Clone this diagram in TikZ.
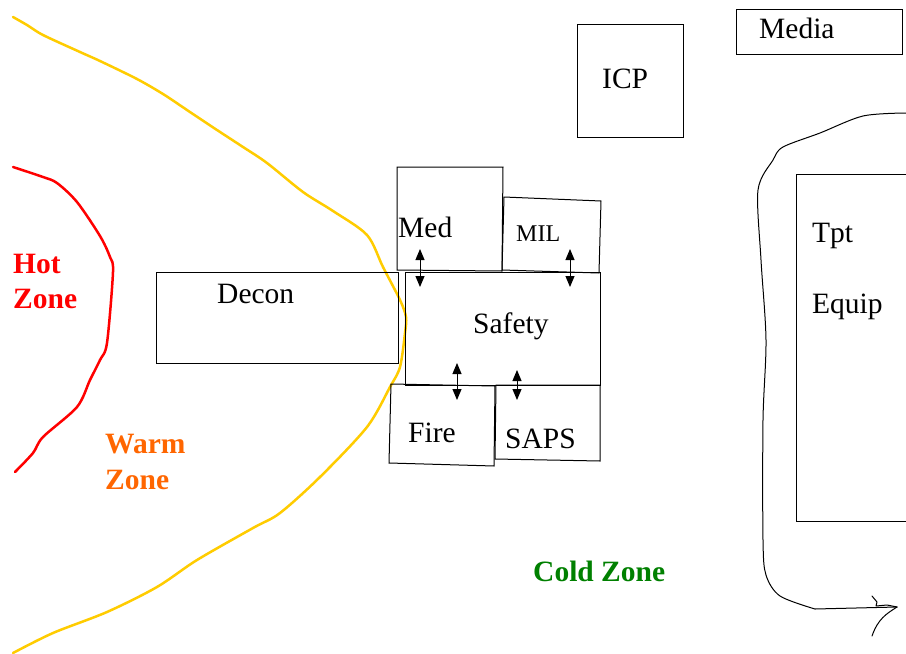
\documentclass[tikz,border=0pt]{standalone}
\usepackage{fontspec}
\setmainfont{Liberation Serif}
\usetikzlibrary{arrows.meta}
\definecolor{hotred}{HTML}{FF0000}
\definecolor{warmyellow}{HTML}{FFCC00}
\definecolor{warmorange}{HTML}{FF6600}
\definecolor{coldgreen}{HTML}{008000}
\tikzset{
  boxline/.style={draw=black, line width=1pt, line join=miter},
  lbl/.style={anchor=base west, inner sep=0pt, font=\fontsize{29.5}{34}\selectfont},
  smalllbl/.style={anchor=base west, inner sep=0pt, font=\fontsize{24}{28}\selectfont},
  zonelbl/.style={anchor=base west, inner sep=0pt, font=\fontsize{29.5}{34}\selectfont\bfseries},
  dblarrow/.style={{Triangle[length=11pt,width=9pt]}-{Triangle[length=11pt,width=9pt]}, line width=1pt},
  zoneline/.style={line width=2.5pt, line cap=round, line join=round},
  loopline/.style={line width=1pt, line cap=round, line join=round}
}
\begin{document}
\begin{tikzpicture}[x=1pt,y=-1pt]
\clip (0,0) rectangle (906,654);
\fill[white] (0,0) rectangle (906,654);

% hot zone boundary
\draw[zoneline, hotred] plot[smooth, tension=0.5] coordinates {
 (13,167) (43,177) (57,183) (77,202) (100,236) (110,257) (113,272)
 (107,343) (100,360) (90,380) (77,407) (43,437) (33,453) (15,472)};

% warm zone boundary
\draw[zoneline, warmyellow] plot[smooth, tension=0.5] coordinates {
 (13,17) (27,25) (43,35) (80,52) (100,61) (137,79) (163,94) (187,110)
 (217,130) (243,147) (267,163) (303,192) (333,211) (367,235) (383,267)
 (400,300) (406,317) (405,333) (400,367) (390,387) (367,427) (320,477)
 (280,513) (253,528) (197,560) (157,587) (107,612) (53,633) (13,653)};

% boxes
\draw[boxline] (577,24) rectangle (683,137);   % ICP
\draw[boxline] (736,9) rectangle (902,54);     % Media
\draw[boxline] (156,272) rectangle (398,363);  % Decon
\draw[boxline] (397,167) -- (503,167) -- (502,271) -- (397,270) -- cycle; % Med
\draw[boxline] (504,197) -- (601,201) -- (599,273) -- (502,270) -- cycle; % MIL
\draw[boxline] (405,272) rectangle (600,385);  % Safety
\draw[boxline] (391,384) -- (495,386) -- (494,466) -- (389,463) -- cycle; % Fire
\draw[boxline] (496,385) -- (600,385) -- (600,461) -- (495,459) -- cycle; % SAPS
\draw[boxline] (796,174) rectangle (930,521);  % Tpt / Equip

% labels
\node[lbl] (icp) at (602,88) {ICP};
\node[lbl] (media) at (759,38) {Media};
\node[lbl] (decon) at (217,303) {Decon};
\node[lbl] (med) at (398,237) {Med};
\node[smalllbl] (mil) at (516,241) {MIL};
\node[lbl] (safety) at (473,333) {Safety};
\node[lbl] (fire) at (408,442) {Fire};
\node[lbl] (saps) at (505,448) {SAPS};
\node[lbl] (tpt) at (812,242) {Tpt};
\node[lbl] (equip) at (812,313) {Equip};
\node[zonelbl, text=hotred] (hot1) at (13,273) {Hot};
\node[zonelbl, text=hotred] (hot2) at (13,308) {Zone};
\node[zonelbl, text=warmorange] (warm1) at (105,453) {Warm};
\node[zonelbl, text=warmorange] (warm2) at (105,489) {Zone};
\node[zonelbl, text=coldgreen] (cold) at (533,581) {Cold Zone};

% two-way links
\coordinate (a1t) at (420,249); \coordinate (a1b) at (420,287);
\coordinate (a2t) at (570,249); \coordinate (a2b) at (570,287);
\coordinate (a3t) at (457,363); \coordinate (a3b) at (457,400);
\coordinate (a4t) at (517,370); \coordinate (a4b) at (517,400);
\draw[dblarrow] (a1t) -- (a1b);
\draw[dblarrow] (a2t) -- (a2b);
\draw[dblarrow] (a3t) -- (a3b);
\draw[dblarrow] (a4t) -- (a4b);

% traffic loop with hand-drawn arrow
\coordinate (loopstart) at (906,113);
\coordinate (looptip) at (897,607);
\draw[loopline] plot[smooth, tension=0.5] coordinates {
 (906,113) (863,116) (820,133) (783,147) (773,160) (758,190)
 (761,260) (766,340) (763,420) (763,540) (766,575) (780,596) (815,609)};
\draw[loopline] (815,609) -- (looptip);
\draw[loopline] (872,596) -- (877,602) -- (876,606) -- (887,605) -- (looptip);
\draw[loopline] (looptip) .. controls (886,614) and (878,619) .. (872,636);
\end{tikzpicture}
\end{document}
